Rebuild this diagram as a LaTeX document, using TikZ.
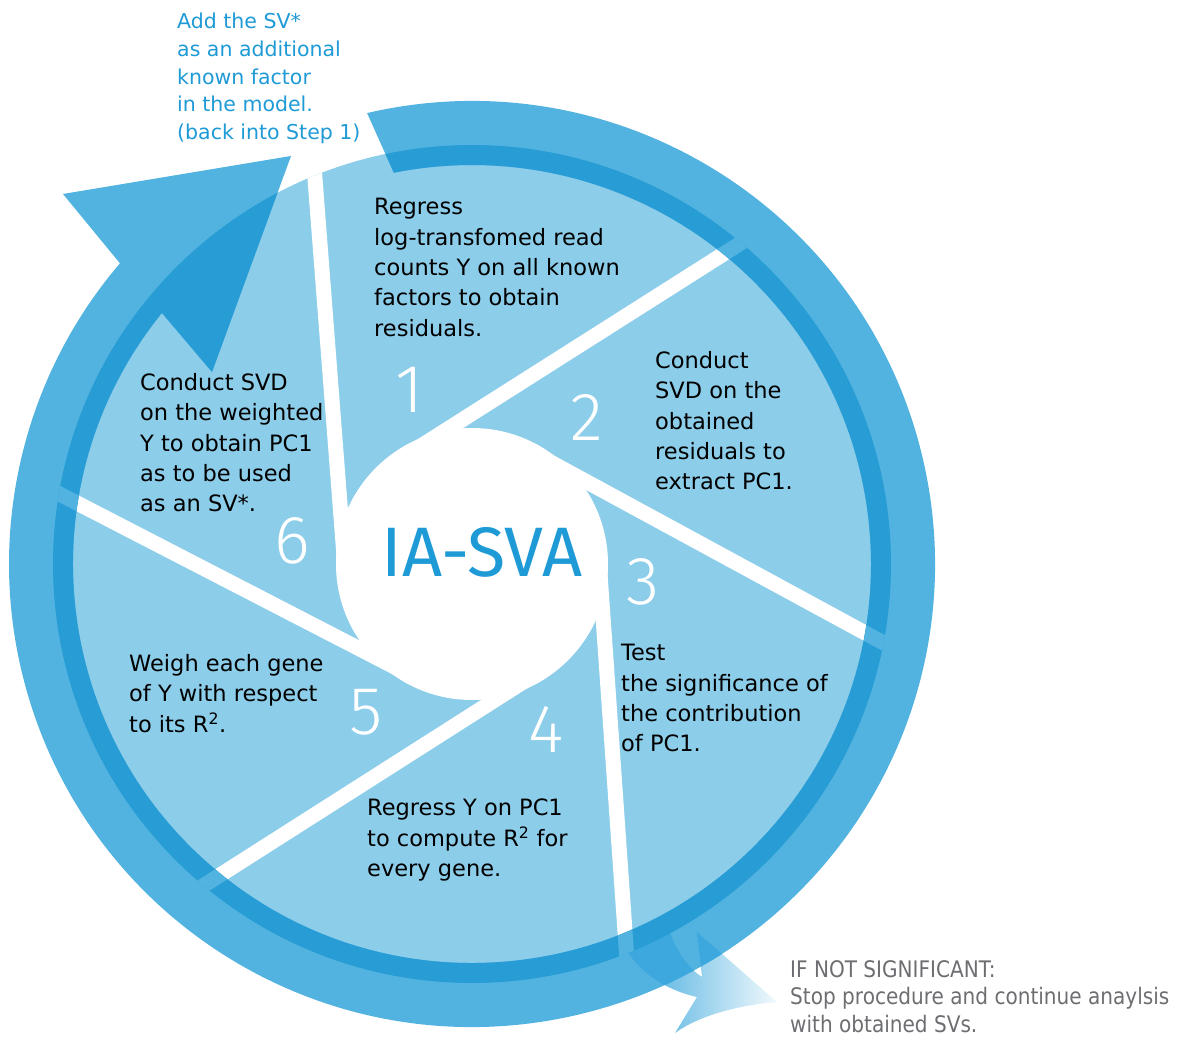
\documentclass[tikz,border=0pt]{standalone}
\usepackage{fontspec}
\setmainfont{DejaVu Sans}
\newfontfamily\narrowfont[FakeStretch=0.88]{DejaVu Sans}
\newfontfamily\titlefont{Fira Sans}
\IfFontExistsTF{Fira Sans Light}
  {\newfontfamily\lightfont{Fira Sans Light}}
  {\IfFontExistsTF{DejaVu Sans ExtraLight}
    {\newfontfamily\lightfont{DejaVu Sans ExtraLight}}
    {\newfontfamily\lightfont{DejaVu Sans}}}
\definecolor{discblue}{HTML}{8CCDEA}
\definecolor{ringblue}{HTML}{53B3E0}
\definecolor{deepblue}{HTML}{289DD5}
\definecolor{exitblue}{HTML}{3DA8DD}
\definecolor{titleblue}{HTML}{1E9AD6}
\definecolor{notegray}{HTML}{6D6E71}

\def\ringpath{(103.1:463) arc[start angle=103.1, end angle=-220.5, radius=463]
  -- (-409,370) -- (-181,408) -- (-260,192)
  -- (-219:399) arc[start angle=-219, end angle=101.3, radius=399] -- cycle}
\def\exitpath{(198,-368) .. controls (204,-386) and (216,-404) .. (230,-413)
  -- (225,-368) -- (305,-438) .. controls (268,-441) and (228,-451) .. (203,-469)
  -- (225,-433) .. controls (193,-426) and (163,-406) .. (151,-379) -- cycle}
\def\spokes{
  \draw[spoke] (122.4:127) -- ++(32.4:440);
  \draw[spoke] (61.5:127) -- ++(-28.5:440);
  \draw[spoke] (4:127) -- ++(-86:440);
  \draw[spoke] (-57.5:127) -- ++(-147.5:440);
  \draw[spoke] (242.7:127) -- ++(152.7:440);
  \draw[spoke] (184.4:127) -- ++(94.4:440);
}

\begin{document}
\begin{tikzpicture}[x=1pt,y=1pt,
  spoke/.style={draw=white,line width=15pt},
  hub/.style={circle,fill=white,minimum size=272pt,inner sep=0pt},
  hublabel/.style={text=titleblue,font=\titlefont\fontsize{70}{70}\selectfont,inner sep=0pt},
  stagenum/.style={text=white,font=\lightfont\fontsize{68}{68}\selectfont,inner sep=0pt},
  stagetext/.style={anchor=north west,align=left,inner sep=0pt,font=\fontsize{22.5}{30.4}\selectfont},
  backnote/.style={anchor=north west,align=left,inner sep=0pt,text=titleblue,font=\fontsize{20.5}{27.7}\selectfont},
  stopnote/.style={anchor=north west,align=left,inner sep=0pt,text=notegray,font=\narrowfont\fontsize{22.8}{27.6}\selectfont}]
\useasboundingbox (-472,-473) rectangle (715,564);

\fill[discblue] (0,0) circle[radius=419];
\begin{scope}
\clip (0,0) circle[radius=419];
\spokes
\end{scope}
\node[hub] (hub) at (0,0) {};

\shade[left color=exitblue,middle color=discblue!90!white,right color=discblue!12!white] \exitpath;
\fill[ringblue] \ringpath;
\begin{scope}
\clip \ringpath;
\fill[exitblue] \exitpath;
\end{scope}
\begin{scope}
\clip (0,0) circle[radius=419];
\fill[deepblue] \ringpath;
\clip \ringpath;
\tikzset{spoke/.append style={draw=ringblue}}
\spokes
\end{scope}

\node[hublabel] (title) at (10,12) {IA-SVA};

\node[stagenum] (n1) at (-62,174) {1};
\node[stagenum] (n2) at (115,146) {2};
\node[stagenum] (n3) at (171,-18) {3};
\node[stagenum] (n4) at (74,-166) {4};
\node[stagenum] (n5) at (-106,-148) {5};
\node[stagenum] (n6) at (-180,23) {6};

\node[stagetext] (t1) at (-98,366) {Regress\\log-transfomed read\\counts Y on all known\\factors to obtain\\residuals.};
\node[stagetext] (t2) at (183,213) {Conduct\\SVD on the\\obtained\\residuals to\\extract PC1.};
\node[stagetext] (t3) at (149,-80) {Test\\the significance of\\the contribution\\of PC1.};
\node[stagetext] (t4) at (-105,-235) {Regress Y on PC1\\to compute R\textsuperscript{2} for\\every gene.};
\node[stagetext] (t5) at (-343,-90) {Weigh each gene\\of Y with respect\\to its R\textsuperscript{2}.};
\node[stagetext] (t6) at (-332,191) {Conduct SVD\\on the weighted\\Y to obtain PC1\\as to be used\\as an SV*.};

\node[backnote] (back) at (-295,551) {Add the SV*\\as an additional\\known factor\\in the model.\\(back into Step 1)};
\node[stopnote] (stop) at (318,-396) {IF NOT SIGNIFICANT:\\Stop procedure and continue anaylsis\\with obtained SVs.};
\end{tikzpicture}
\end{document}
